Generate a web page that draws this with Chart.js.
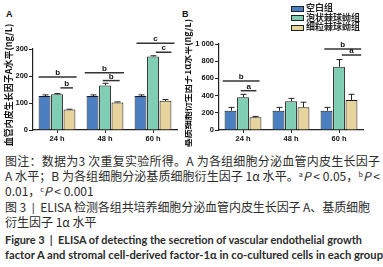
<!DOCTYPE html>
<html><head><meta charset="utf-8">
<script src="https://cdn.jsdelivr.net/npm/chart.js@4"></script>
<style>
html,body{margin:0;padding:0;background:#fff;width:383px;height:267px;overflow:hidden;}
#wrap{position:relative;width:383px;height:267px;}
canvas{position:absolute;}
.cap{position:absolute;left:5px;white-space:nowrap;color:#2b2b2b;font-family:"Noto Sans CJK SC","Noto Sans",sans-serif;line-height:1;transform-origin:0 0;}
.lat{font-family:"Lato","Noto Sans",sans-serif;}
.en{font-family:"Lato","Noto Sans",sans-serif;font-weight:bold;}
sup{font-size:0.6em;vertical-align:0.5em;}
.leg{position:absolute;left:291px;font:bold 9px "Noto Sans CJK SC",sans-serif;color:#222;}
.leg span.b{display:inline-block;width:11px;height:4px;border:1px solid #222;vertical-align:middle;margin-right:2px;}
.pl{position:absolute;font:bold 9px "Liberation Sans",Arial,sans-serif;color:#111;}
</style></head>
<body><div id="wrap">
<div class="pl" style="left:6px;top:9px;">A</div>
<div class="pl" style="left:182px;top:9px;">B</div>
<canvas id="ca" width="185" height="150" style="left:0;top:0;width:185px;height:150px"></canvas>
<canvas id="cb" width="198" height="150" style="left:185px;top:0;width:198px;height:150px"></canvas>
<div id="legend"></div>
<div class="cap" data-w="375" style="top:155px;font-size:12px;">图注：数据为3 次重复实验所得。A 为各组细胞分泌血管内皮生长因子</div>
<div class="cap" data-w="375" style="top:170px;font-size:12px;">A 水平；B 为各组细胞分泌基质细胞衍生因子 1α 水平。<sup>a</sup><i>P</i> &lt; 0.05，<sup>b</sup><i>P</i> &lt;</div>
<div class="cap" style="top:185px;font-size:12px;">0.01，<sup>c</sup><i>P</i> &lt; 0.001</div>
<div class="cap" data-w="365" style="top:201px;font-size:12px;">图 3 <span class="lat">&nbsp;|&nbsp;</span> ELISA 检测各组共培养细胞分泌血管内皮生长因子 A、基质细胞</div>
<div class="cap" style="top:216px;font-size:12px;">衍生因子 1α 水平</div>
<div class="cap en" data-s="357" style="top:234px;font-size:11.5px;">Figure 3 &nbsp;|&nbsp; ELISA of detecting the secretion of vascular endothelial growth</div>
<div class="cap en" data-s="378" style="top:249px;font-size:11.5px;">factor A and stromal cell-derived factor-1α in co-cultured cells in each group</div>
</div>
<script>
const categories = ['24 h','48 h','60 h'];
const groups = ['空白组','泡状棘球蚴组','细粒棘球蚴组'];
const colors = ['#4a7fc1','#7fcdb3','#e7d49c'];

const vegfBlank = [126,126,126];
const vegfAlveolar = [132,165,272];
const vegfGranular = [76,102,108];
const vegfBlankErr = [4,4,4];
const vegfAlveolarErr = [3,8,3];
const vegfGranularErr = [1,2,5];

const sdfBlank = [225,225,225];
const sdfAlveolar = [380,335,735];
const sdfGranular = [148,265,350];
const sdfBlankErr = [38,38,38];
const sdfAlveolarErr = [35,33,85];
const sdfGranularErr = [10,58,65];

const ticksA = [0,100,200,300];
const ticksB = [0,200,400,600,800,1000];

// brackets: category index, span in bar slots from group start, y value, label
const bracketsA = [
  {cat:0,s0:0,s1:3.05,y:196,label:'b'},
  {cat:0,s0:1.75,s1:2.75,y:156,label:'b'},
  {cat:1,s0:-0.15,s1:3.0,y:212,label:'b'},
  {cat:1,s0:1.3,s1:2.65,y:183,label:'b'},
  {cat:2,s0:0.15,s1:3.2,y:321,label:'c'},
  {cat:2,s0:1.7,s1:2.95,y:288,label:'c'}
];
const bracketsB = [
  {cat:0,s0:-0.15,s1:2.8,y:570,label:'b'},
  {cat:0,s0:1.3,s1:2.55,y:457,label:'a'},
  {cat:2,s0:0.3,s1:3.25,y:942,label:'b'},
  {cat:2,s0:1.7,s1:3.25,y:872,label:'a'}
];

const errPlugin = {
  id:'errs',
  afterDatasetsDraw(chart, args, opts){
    const ctx = chart.ctx;
    ctx.save();
    ctx.strokeStyle = '#222'; ctx.lineWidth = 1;
    chart.data.datasets.forEach((ds,di)=>{
      const meta = chart.getDatasetMeta(di);
      meta.data.forEach((bar,i)=>{
        const e = ds.err[i];
        const yTop = chart.scales.y.getPixelForValue(ds.data[i]+e);
        const yb = bar.y;
        const x = Math.round(bar.x)+0.5;
        const cw = bar.width*0.25;
        ctx.beginPath();
        ctx.moveTo(x,yb); ctx.lineTo(x,yTop);
        ctx.moveTo(x-cw,yTop); ctx.lineTo(x+cw,yTop);
        ctx.stroke();
      });
    });
    const ys = chart.scales.y;
    const meta0 = chart.getDatasetMeta(0);
    const slot = meta0.data[0].width/0.95;
    (opts.brackets||[]).forEach(b=>{
      const bar0 = meta0.data[b.cat];
      const gx = bar0.x - bar0.width/2;
      const x0 = gx + b.s0*slot, x1 = gx + b.s1*slot;
      const y = ys.getPixelForValue(b.y);
      ctx.strokeStyle='#333'; ctx.lineWidth=1.5;
      ctx.beginPath(); ctx.moveTo(x0,y); ctx.lineTo(x1,y); ctx.stroke();
      ctx.fillStyle='#111'; ctx.font='bold 8px "Liberation Sans", Arial, sans-serif';
      ctx.textAlign='center'; ctx.textBaseline='alphabetic';
      ctx.fillText(b.label,(x0+x1)/2,y-2);
    });
    ctx.save();
    ctx.translate(opts.tx, opts.ty);
    ctx.rotate(-Math.PI/2);
    ctx.fillStyle='#111';
    ctx.font='bold 9px "Noto Sans CJK SC", sans-serif';
    ctx.textAlign='center'; ctx.textBaseline='middle';
    ctx.fillText(opts.title,0,0);
    ctx.restore();
    ctx.restore();
  }
};

function makeChart(id, series, errs, ticks, max, yw, pad, brackets, title, tx, ty){
  return new Chart(document.getElementById(id),{
    type:'bar',
    data:{labels:categories, datasets: series.map((d,i)=>({
      label:groups[i], data:d, err:errs[i], backgroundColor:colors[i],
      borderColor:'#1a1a1a', borderWidth:1, categoryPercentage:0.78, barPercentage:0.95
    }))},
    options:{
      responsive:false, animation:false, devicePixelRatio:1,
      layout:{padding:pad},
      plugins:{legend:{display:false}, tooltip:{enabled:false}, errs:{brackets, title, tx, ty}},
      scales:{
        x:{grid:{display:true,drawOnChartArea:false,offset:false,tickLength:3,color:'#222'},
           border:{color:'#222',width:1.2},
           ticks:{color:'#111',font:{family:'"Liberation Sans", Arial, sans-serif',size:7.5,weight:'bold'},padding:1},
           afterFit(s){s.height=20;}},
        y:{min:0,max:max,
           afterBuildTicks(s){s.ticks=ticks.map(v=>({value:v}));},
           grid:{display:true,drawOnChartArea:false,tickLength:4,color:'#222'},
           border:{color:'#222',width:1.2},
           ticks:{color:'#111',padding:1,font:{family:'"Liberation Sans", Arial, sans-serif',size:7.5,weight:'bold'},
             callback:(v)=> v>=1000 ? String(v).replace(/(\d)(\d{3})$/,'$1 $2') : String(v)},
           afterFit(s){s.width=yw;}}
      }
    },
    plugins:[errPlugin]
  });
}

makeChart('ca',[vegfBlank,vegfAlveolar,vegfGranular],[vegfBlankErr,vegfAlveolarErr,vegfGranularErr],
  ticksA,300,33,{left:0,right:8,top:49,bottom:0},bracketsA,'血管内皮生长因子A水平(ng/L)',9,85);
makeChart('cb',[sdfBlank,sdfAlveolar,sdfGranular],[sdfBlankErr,sdfAlveolarErr,sdfGranularErr],
  ticksB,1000,34,{left:0,right:20,top:44,bottom:0},bracketsB,'基质细胞衍生因子1α水平(ng/L)',3,83);

const leg = document.getElementById('legend');
groups.forEach((g,i)=>{
  const d=document.createElement('div'); d.className='leg';
  d.style.top=(1+i*9.5)+'px';
  d.innerHTML='<span class="b" style="background:'+colors[i]+'"></span>'+g;
  leg.appendChild(d);
});

// fit caption line widths
document.querySelectorAll('.cap[data-w]').forEach(el=>{
  const target = +el.dataset.w;
  const n = el.textContent.length;
  const w = el.getBoundingClientRect().width;
  el.style.letterSpacing = ((target - w)/(n-1)) + 'px';
});
document.querySelectorAll('.cap[data-s]').forEach(el=>{
  const target = +el.dataset.s;
  const w = el.getBoundingClientRect().width;
  el.style.transform = 'scaleX(' + (target/w) + ')';
});
</script>
</body></html>
